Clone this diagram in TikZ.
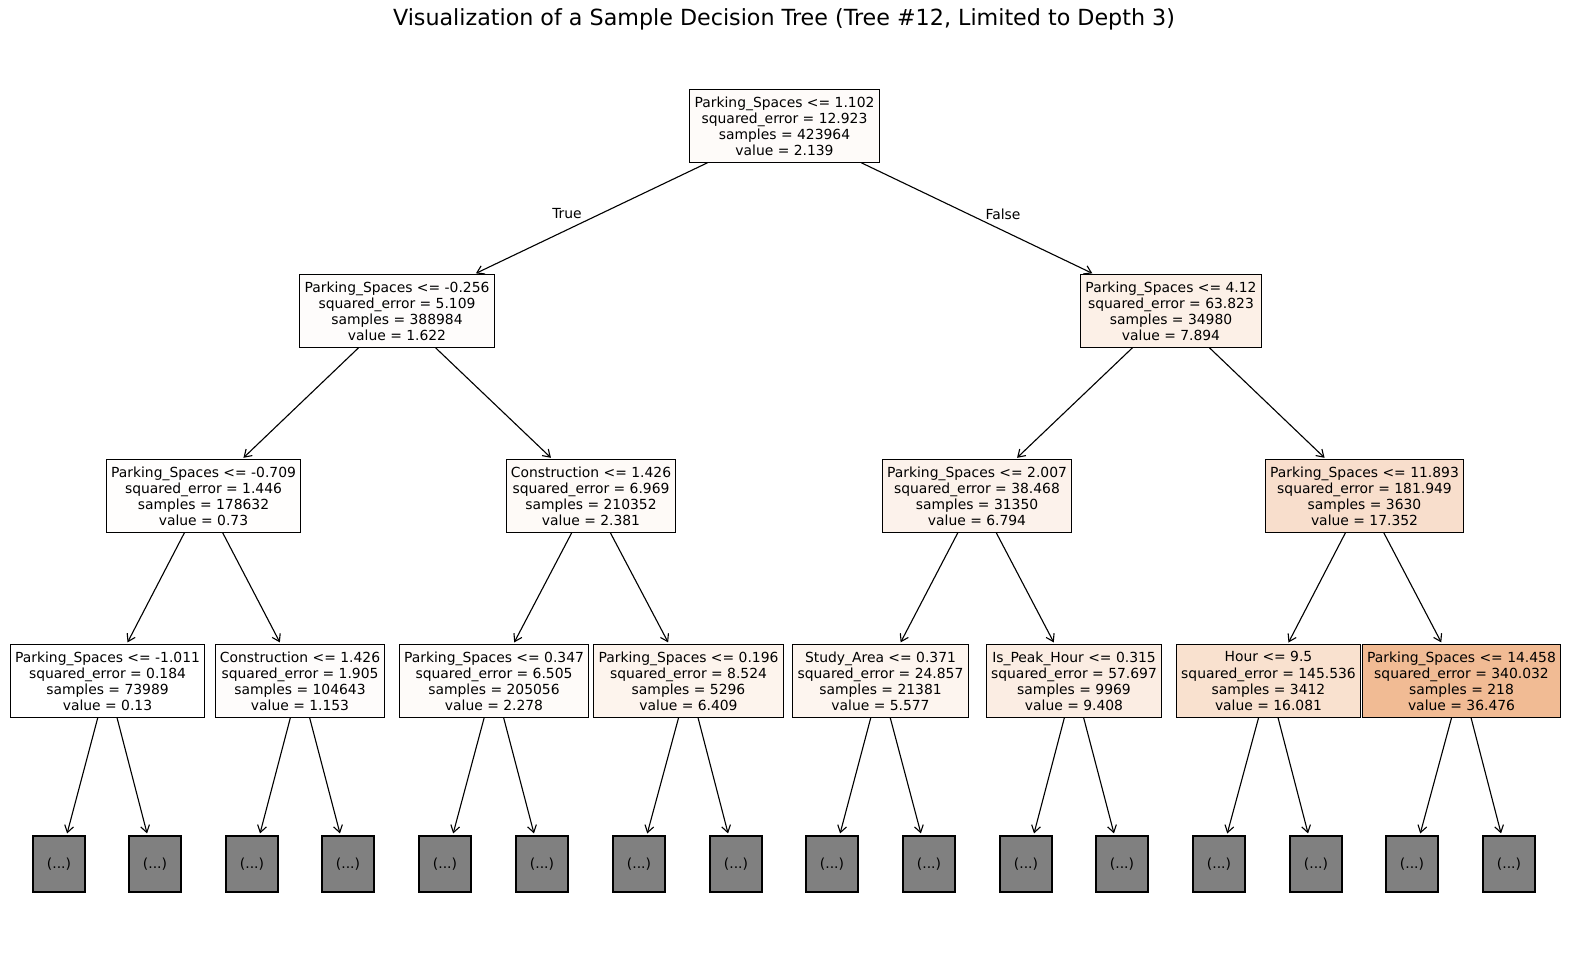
\documentclass[tikz,border=0pt]{standalone}
\usepackage{fontspec}
\setmainfont{DejaVu Sans}
\usepackage{tikz}
\usetikzlibrary{positioning,arrows.meta}
\definecolor{ink}   {HTML}{000000}
\definecolor{leaf}  {HTML}{E58139}
\definecolor{stub}  {HTML}{808080}
\tikzset{
  every node/.style={font=\fontsize{10}{11.6}\selectfont},
  % --- nodes
  split/.style = {draw=ink, line width=0.8pt, align=center, inner xsep=3.4pt,
                  inner ysep=4.8pt, fill=white},
  more/.style  = {draw=ink, line width=0.8pt, fill=stub, minimum width=37.4pt,
                  minimum height=40.3pt, inner sep=0pt},
  side/.style  = {font=\fontsize{10}{12}\selectfont},
  % --- edges
  e/.style     = {-{Straight Barb[length=5pt,width=6.5pt]}, draw=ink,
                  line width=0.8pt, shorten >=1.5pt},
}

\begin{document}
\begin{tikzpicture}[x=0.72pt, y=-0.72pt]
  \useasboundingbox (0,0) rectangle (1570,968);

  \node[font=\fontsize{16}{19}\selectfont] (title) at (784,19)
    {Visualization of a Sample Decision Tree (Tree \#12, Limited to Depth 3)};

  % ------------------------------------------------------------------ depth 0
  \node[split, fill=leaf!3] (root) at (784.5,126)
    {Parking\_Spaces <= 1.102\\squared\_error = 12.923\\samples = 423964\\value = 2.139};

  % ------------------------------------------------------------------ depth 1
  \node[split, fill=leaf!2] (a) at (397,311)
    {Parking\_Spaces <= -0.256\\squared\_error = 5.109\\samples = 388984\\value = 1.622};
  \node[split, fill=leaf!12] (b) at (1171,311)
    {Parking\_Spaces <= 4.12\\squared\_error = 63.823\\samples = 34980\\value = 7.894};

  % ------------------------------------------------------------------ depth 2
  \node[split, fill=leaf!1] (aa) at (203.5,496)
    {Parking\_Spaces <= -0.709\\squared\_error = 1.446\\samples = 178632\\value = 0.73};
  \node[split, fill=leaf!4] (ab) at (591,496)
    {Construction <= 1.426\\squared\_error = 6.969\\samples = 210352\\value = 2.381};
  \node[split, fill=leaf!10] (ba) at (977,496)
    {Parking\_Spaces <= 2.007\\squared\_error = 38.468\\samples = 31350\\value = 6.794};
  \node[split, fill=leaf!26] (bb) at (1364.5,496)
    {Parking\_Spaces <= 11.893\\squared\_error = 181.949\\samples = 3630\\value = 17.352};

  % ------------------------------------------------------------------ depth 3
  \node[split, fill=white] (aaa) at (107.5,681)
    {Parking\_Spaces <= -1.011\\squared\_error = 0.184\\samples = 73989\\value = 0.13};
  \node[split, fill=leaf!2] (aab) at (300,681)
    {Construction <= 1.426\\squared\_error = 1.905\\samples = 104643\\value = 1.153};
  \node[split, fill=leaf!3] (aba) at (494,681)
    {Parking\_Spaces <= 0.347\\squared\_error = 6.505\\samples = 205056\\value = 2.278};
  \node[split, fill=leaf!9] (abb) at (688.5,681)
    {Parking\_Spaces <= 0.196\\squared\_error = 8.524\\samples = 5296\\value = 6.409};
  \node[split, fill=leaf!8] (baa) at (880.5,681)
    {Study\_Area <= 0.371\\squared\_error = 24.857\\samples = 21381\\value = 5.577};
  \node[split, fill=leaf!14] (bab) at (1074,681)
    {Is\_Peak\_Hour <= 0.315\\squared\_error = 57.697\\samples = 9969\\value = 9.408};
  \node[split, fill=leaf!24] (bba) at (1268.5,681)
    {Hour <= 9.5\\squared\_error = 145.536\\samples = 3412\\value = 16.081};
  \node[split, fill=leaf!54] (bbb) at (1461.5,681)
    {Parking\_Spaces <= 14.458\\squared\_error = 340.032\\samples = 218\\value = 36.476};

  % ------------------------------------------------------------------ truncated
  \node[more] (aaa1) at (59,864)   {(...)};
  \node[more] (aaa2) at (155,864)  {(...)};
  \node[more] (aab1) at (252,864)  {(...)};
  \node[more] (aab2) at (348,864)  {(...)};
  \node[more] (aba1) at (445,864)  {(...)};
  \node[more] (aba2) at (542,864)  {(...)};
  \node[more] (abb1) at (639,864)  {(...)};
  \node[more] (abb2) at (736,864)  {(...)};
  \node[more] (baa1) at (832,864)  {(...)};
  \node[more] (baa2) at (929,864)  {(...)};
  \node[more] (bab1) at (1026,864) {(...)};
  \node[more] (bab2) at (1122,864) {(...)};
  \node[more] (bba1) at (1219,864) {(...)};
  \node[more] (bba2) at (1316,864) {(...)};
  \node[more] (bbb1) at (1412,864) {(...)};
  \node[more] (bbb2) at (1509,864) {(...)};

  % ------------------------------------------------------------------ edges
  \draw[e] (root) -- (a);
  \draw[e] (root) -- (b);
  \node[side] (yes) at (567,214) {True};
  \node[side] (no)  at (1003,214) {False};

  \draw[e] (a) -- (aa);
  \draw[e] (a) -- (ab);
  \draw[e] (b) -- (ba);
  \draw[e] (b) -- (bb);

  \draw[e] (aa) -- (aaa);
  \draw[e] (aa) -- (aab);
  \draw[e] (ab) -- (aba);
  \draw[e] (ab) -- (abb);
  \draw[e] (ba) -- (baa);
  \draw[e] (ba) -- (bab);
  \draw[e] (bb) -- (bba);
  \draw[e] (bb) -- (bbb);

  \draw[e] (aaa) -- (aaa1);
  \draw[e] (aaa) -- (aaa2);
  \draw[e] (aab) -- (aab1);
  \draw[e] (aab) -- (aab2);
  \draw[e] (aba) -- (aba1);
  \draw[e] (aba) -- (aba2);
  \draw[e] (abb) -- (abb1);
  \draw[e] (abb) -- (abb2);
  \draw[e] (baa) -- (baa1);
  \draw[e] (baa) -- (baa2);
  \draw[e] (bab) -- (bab1);
  \draw[e] (bab) -- (bab2);
  \draw[e] (bba) -- (bba1);
  \draw[e] (bba) -- (bba2);
  \draw[e] (bbb) -- (bbb1);
  \draw[e] (bbb) -- (bbb2);
\end{tikzpicture}
\end{document}
